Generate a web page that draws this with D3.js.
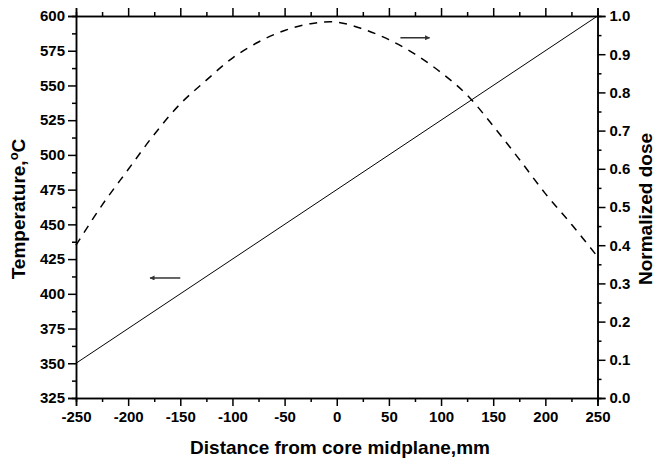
<!DOCTYPE html>
<html>
<head>
<meta charset="utf-8">
<script src="https://cdn.jsdelivr.net/npm/d3@7"></script>
<style>
  body { margin: 0; background: #fff; }
  text { font-family: "Liberation Sans", Arial, sans-serif; font-weight: bold; }
</style>
</head>
<body>
<svg id="chart" width="655" height="459"></svg>
<script>
// Data
var distance = [-250, -225, -200, -175, -150, -125, -100, -75, -50, -25, 0, 25, 50, 75, 100, 125, 150, 175, 200, 225, 250];
var dose = [0.40, 0.505, 0.598, 0.69, 0.77, 0.832, 0.89, 0.932, 0.962, 0.98, 0.984, 0.966, 0.938, 0.90, 0.852, 0.793, 0.712, 0.625, 0.535, 0.455, 0.37];
var tempDistance = [-250, 250];
var temperature = [350, 600];

var xTicks = d3.range(-250, 251, 50);
var tempTicks = d3.range(325, 601, 25);
var doseTicks = d3.range(0, 11, 1).map(d => d / 10);

var svg = d3.select("#chart");
var pLeft = 76, pRight = 597.5, pTop = 16, pBottom = 398;

var x = d3.scaleLinear().domain([-250, 250]).range([pLeft, pRight]);
var yT = d3.scaleLinear().domain([325, 600]).range([pBottom, pTop]);
var yD = d3.scaleLinear().domain([0, 1]).range([pBottom, pTop]);

// minor ticks
function minor(axis, scale, vals) {
  return axis(scale).tickValues(vals).tickSize(4).tickFormat("");
}
var xMinor = d3.range(-225, 250, 50);
var tMinor = d3.range(337.5, 600, 25);
var dMinor = d3.range(0, 10, 1).map(d => d / 10 + 0.05);

function styleAxis(g) {
  g.selectAll(".domain").attr("stroke", "#000").attr("stroke-width", 1.5);
  g.selectAll(".tick line").attr("stroke", "#000").attr("stroke-width", 1.5);
  g.selectAll(".tick text").attr("fill", "#000").style("font-size", "15px");
}

// bottom
svg.append("g").attr("transform", "translate(0," + pBottom + ")")
  .call(d3.axisBottom(x).tickValues(xTicks).tickSize(8).tickPadding(5).tickFormat(d => String(d)))
  .call(styleAxis);
svg.append("g").attr("transform", "translate(0," + pBottom + ")")
  .call(minor(d3.axisBottom, x, xMinor)).call(styleAxis);
// top
svg.append("g").attr("transform", "translate(0," + pTop + ")")
  .call(d3.axisTop(x).tickValues(xTicks).tickSize(8).tickFormat(""))
  .call(styleAxis);
svg.append("g").attr("transform", "translate(0," + pTop + ")")
  .call(minor(d3.axisTop, x, xMinor)).call(styleAxis);
// left
svg.append("g").attr("transform", "translate(" + pLeft + ",0)")
  .call(d3.axisLeft(yT).tickValues(tempTicks).tickSize(8).tickPadding(3).tickFormat(d => String(d)))
  .call(styleAxis);
svg.append("g").attr("transform", "translate(" + pLeft + ",0)")
  .call(minor(d3.axisLeft, yT, tMinor)).call(styleAxis);
// right
svg.append("g").attr("transform", "translate(" + pRight + ",0)")
  .call(d3.axisRight(yD).tickValues(doseTicks).tickSize(8).tickPadding(4).tickFormat(d3.format(".1f")))
  .call(styleAxis);
svg.append("g").attr("transform", "translate(" + pRight + ",0)")
  .call(minor(d3.axisRight, yD, dMinor)).call(styleAxis);

// temperature line
svg.append("path")
  .datum(d3.zip(tempDistance, temperature))
  .attr("fill", "none")
  .attr("stroke", "#000")
  .attr("stroke-width", 1)
  .attr("d", d3.line().x(d => x(d[0])).y(d => yT(d[1])));

// dose curve
svg.append("path")
  .datum(d3.zip(distance, dose))
  .attr("fill", "none")
  .attr("stroke", "#000")
  .attr("stroke-width", 1.5)
  .attr("stroke-dasharray", "8,7")
  .attr("d", d3.line().curve(d3.curveCatmullRom).x(d => x(d[0])).y(d => yD(d[1])));

// arrows
var defs = svg.append("defs");
defs.append("marker").attr("id", "ah")
  .attr("viewBox", "0 0 10 10").attr("refX", 9).attr("refY", 5)
  .attr("markerWidth", 8).attr("markerHeight", 5).attr("markerUnits", "userSpaceOnUse")
  .attr("orient", "auto")
  .append("path").attr("d", "M0,0L10,5L0,10Z").attr("fill", "#333");

svg.append("line")
  .attr("x1", x(-150)).attr("x2", x(-179)).attr("y1", yT(411.4)).attr("y2", yT(411.4))
  .attr("stroke", "#333").attr("stroke-width", 1.5).attr("marker-end", "url(#ah)");
svg.append("line")
  .attr("x1", x(61)).attr("x2", x(89)).attr("y1", yD(0.943)).attr("y2", yD(0.943))
  .attr("stroke", "#333").attr("stroke-width", 1.5).attr("marker-end", "url(#ah)");

// axis titles
svg.append("text")
  .attr("x", 340).attr("y", 454)
  .attr("text-anchor", "middle").style("font-size", "19px")
  .text("Distance from core midplane,mm");

var lt = svg.append("text")
  .attr("transform", "translate(25," + 209 + ") rotate(-90)")
  .attr("text-anchor", "middle").style("font-size", "19px");
lt.append("tspan").text("Temperature,");
lt.append("tspan").attr("dy", -7).style("font-size", "13px").text("o");
lt.append("tspan").attr("dy", 7).text("C");

svg.append("text")
  .attr("transform", "translate(652," + 209 + ") rotate(-90)")
  .attr("text-anchor", "middle").style("font-size", "19px")
  .text("Normalized dose");
</script>
</body>
</html>
